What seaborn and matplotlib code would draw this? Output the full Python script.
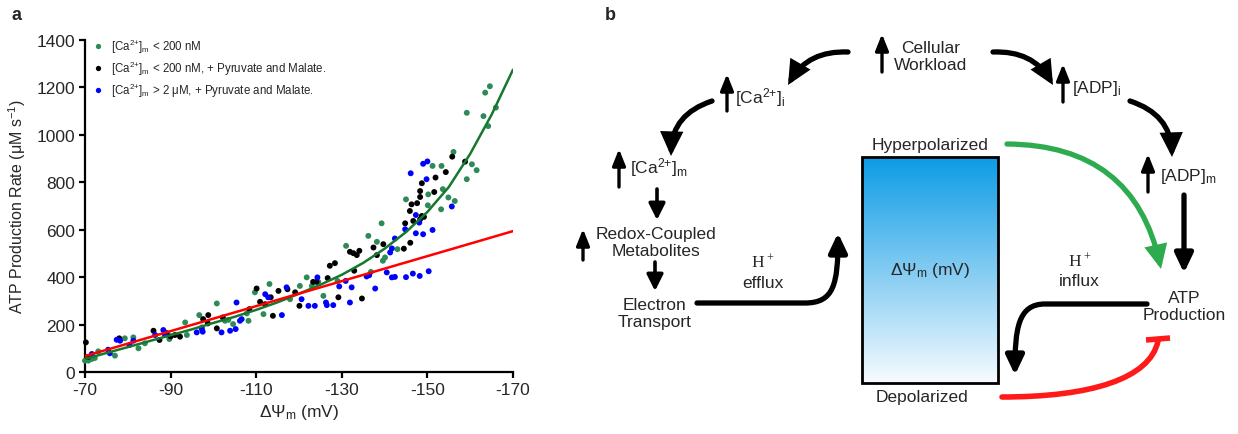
import numpy as np
import pandas as pd
import matplotlib
matplotlib.use("Agg")
import matplotlib.pyplot as plt
import seaborn as sns
from matplotlib.patches import FancyArrowPatch, Rectangle
from matplotlib.path import Path

# ---------------- data (panel a) ----------------
green_x = [-70.0, -70.8, -71.6, -72.3, -73.1, -77.0, -79.3, -81.3, -82.5, -84.0, -89.7, -93.4, -93.8,
           -96.7, -97.3, -100.8, -102.7, -103.5, -104.6, -107.8, -108.2, -109.7, -111.7, -113.1, -117.9,
           -120.2, -121.8, -123.0, -124.5, -125.7, -129.0, -131.0, -136.2, -138.2, -139.3, -136.8, -140.1,
           -139.6, -143.0, -159.2, -163.5, -164.6, -163.1, -164.2, -166.0, -156.1, -151.2, -153.3, -160.4,
           -161.5, -159.2, -153.6, -154.9, -156.4, -153.2, -150.2, -150.1, -145.0]
green_y = [48, 48, 55, 59, 87, 69, 142, 146, 100, 121, 139, 209, 156,
           240, 188, 289, 216, 220, 202, 247, 216, 336, 244, 371, 307,
           363, 399, 363, 380, 321, 384, 532, 574, 549, 627, 422, 483,
           469, 518, 1093, 1178, 1205, 1079, 1037, 1115, 928, 869, 869, 876,
           851, 813, 771, 736, 721, 686, 749, 703, 728]

black_x = [-70.2, -70.8, -78.0, -86.0, -87.4, -89.1, -90.0, -91.0, -92.2, -97.6, -98.8, -98.7, -100.8,
           -102.2, -108.4, -110.1, -110.9, -112.1, -113.4, -113.9, -115.2, -117.3, -119.1, -120.1, -123.3,
           -124.1, -126.7, -129.2, -134.7, -127.2, -128.4, -131.9, -132.7, -133.5, -134.1, -132.9, -137.4,
           -138.2, -139.7, -155.8, -158.8, -154.3, -151.9, -148.7, -148.3, -148.3, -147.6, -146.3, -145.9,
           -151.6, -144.8, -146.7, -148.7, -149.2, -148.3, -144.5, -146.0]
black_y = [125, 64, 142, 174, 135, 164, 150, 156, 149, 223, 240, 205, 184,
           230, 265, 352, 296, 286, 315, 237, 342, 349, 336, 279, 380,
           380, 396, 315, 310, 448, 459, 507, 501, 493, 511, 427, 525,
           493, 539, 908, 887, 843, 820, 796, 763, 738, 712, 707, 679,
           759, 627, 637, 658, 654, 644, 520, 545]

blue_x = [-71.6, -75.4, -75.8, -77.4, -78.2, -80.4, -81.3, -86.4, -88.3, -88.7, -96.1, -97.3, -97.5,
          -101.9, -103.9, -105.2, -105.4, -106.2, -106.6, -112.1, -112.8, -116.0, -117.1, -120.6, -122.2,
          -123.7, -124.3, -126.3, -126.5, -128.0, -129.4, -130.9, -132.3, -131.9, -137.8, -135.8, -136.4,
          -140.5, -141.7, -142.4, -141.3, -141.7, -142.4, -149.0, -150.0, -146.1, -149.8, -155.7, -147.3,
          -148.1, -144.8, -147.3, -149.0, -151.2, -145.0, -146.6, -148.2, -150.3]
blue_y = [76, 94, 79, 136, 132, 114, 132, 156, 177, 156, 167, 181, 170,
          167, 174, 181, 293, 216, 223, 328, 315, 240, 357, 307, 279,
          279, 399, 293, 282, 282, 361, 384, 357, 293, 352, 403, 408,
          420, 399, 401, 504, 521, 563, 878, 888, 838, 813, 698, 662,
          630, 602, 585, 581, 599, 400, 415, 405, 425]

fit_x = [-70, -75, -80, -85, -90, -95, -100, -105, -110, -115, -120, -125, -130, -135, -140,
         -145, -150, -155, -160, -165, -170]
green_fit = [55, 80, 105, 130, 155, 180, 207, 233, 262, 294, 330, 368, 410, 460, 520,
             590, 675, 780, 920, 1085, 1275]
red_x = [-70, -170]
red_fit = [67, 594]

labels = [r'[Ca$^{2{+}}$]$_\mathregular{m}$ < 200 nM',
          r'[Ca$^{2{+}}$]$_\mathregular{m}$ < 200 nM, + Pyruvate and Malate.',
          r'[Ca$^{2{+}}$]$_\mathregular{m}$ > 2 $\mathregular{\mu}$M, + Pyruvate and Malate.']
colors = ['#2e8b57', '#000000', '#0000ff']
yticks = [0, 200, 400, 600, 800, 1000, 1200, 1400]
xticks = [-70, -90, -110, -130, -150, -170]

df = pd.DataFrame({
    'mV': green_x + black_x + blue_x,
    'rate': green_y + black_y + blue_y,
    'cond': [labels[0]] * len(green_x) + [labels[1]] * len(black_x) + [labels[2]] * len(blue_x),
})
fit_g = pd.DataFrame({'mV': fit_x, 'rate': green_fit})
fit_r = pd.DataFrame({'mV': red_x, 'rate': red_fit})

# ---------------- style ----------------
sns.set_style('white')
plt.rcParams['font.family'] = ['Liberation Sans', 'DejaVu Sans']
plt.rcParams['mathtext.default'] = 'regular'

W, H = 1238, 435
fig = plt.figure(figsize=(W / 100, H / 100), dpi=100)

ax = fig.add_axes([85 / W, (H - 373) / H, 428 / W, 332 / H])
sns.scatterplot(data=df, x='mV', y='rate', hue='cond', hue_order=labels, palette=colors,
                s=18, linewidth=0, ax=ax, clip_on=False, zorder=3)
sns.lineplot(data=fit_g, x='mV', y='rate', color='#16782f', lw=1.8, ax=ax, zorder=4)
sns.lineplot(data=fit_r, x='mV', y='rate', color='#ff0000', lw=1.8, ax=ax, zorder=5)

ax.set_xlim(-70, -170)
ax.set_ylim(0, 1400)
ax.set_xticks(xticks)
ax.set_yticks(yticks)
ax.set_xticklabels([str(t) for t in xticks])
for s in ['top', 'right']:
    ax.spines[s].set_visible(False)
for s in ['left', 'bottom']:
    ax.spines[s].set_linewidth(1.6)
    ax.spines[s].set_color('black')
ax.tick_params(axis='both', direction='out', length=4, width=1.6, labelsize=12.5, color='black',
               bottom=True, left=True, pad=3)
ax.set_xlabel(r'$\mathregular{\Delta\Psi_m}$ (mV)', fontsize=12.5, labelpad=4)
ax.set_ylabel(r'ATP Production Rate ($\mathregular{\mu}$M s$^{-1}$)', fontsize=11.5, labelpad=6)

leg = ax.legend(loc='upper left', bbox_to_anchor=(-0.015, 1.035), frameon=False, fontsize=8.3,
                handletextpad=0.15, labelspacing=0.35, markerscale=0.9, borderaxespad=0.3)

fig.text(12 / W, 1 - 15 / H, 'a', fontsize=13, fontweight='bold', va='center')

# ---------------- panel b (diagram) ----------------
bx0 = 557
axb = fig.add_axes([bx0 / W, 0, (W - bx0) / W, 1])
axb.set_xlim(bx0, W)
axb.set_ylim(H, 0)
axb.axis('off')
axb.patch.set_alpha(0)

FS = 12.5
fig.text(605 / W, 1 - 15 / H, 'b', fontsize=13, fontweight='bold', va='center')

HEAD = '-|>,head_length=0.95,head_width=0.45'


def up_arrow(x, y0, y1, lw=2.4):
    a = FancyArrowPatch((x, y0), (x, y1), arrowstyle='-|>,head_length=0.7,head_width=0.28',
                        mutation_scale=14, lw=lw, color='black', shrinkA=0, shrinkB=0)
    axb.add_patch(a)


def curve_arrow(p0, p1, rad, color='black', lw=3.8):
    a = FancyArrowPatch(p0, p1, connectionstyle=f'arc3,rad={rad}',
                        arrowstyle=HEAD, mutation_scale=12, lw=lw, color=color,
                        shrinkA=0, shrinkB=0, joinstyle='miter')
    axb.add_patch(a)


# top row
axb.text(931, 57, 'Cellular\nWorkload', ha='center', va='center', fontsize=FS, linespacing=1.15)
up_arrow(882, 73, 35)
curve_arrow((848, 53), (788, 86), 0.3)
curve_arrow((993, 53), (1053, 86), -0.3)

up_arrow(727, 112, 75)
axb.text(735, 98, r'[Ca$^{2{+}}$]$_\mathregular{i}$', ha='left', va='center', fontsize=FS)
curve_arrow((712, 102), (671, 157), 0.35)

up_arrow(1063, 103, 65)
axb.text(1072, 88, r'[ADP]$_\mathregular{i}$', ha='left', va='center', fontsize=FS)
curve_arrow((1130, 102), (1172, 158), -0.35)

up_arrow(619, 188, 150)
axb.text(630, 168, r'[Ca$^{2{+}}$]$_\mathregular{m}$', ha='left', va='center', fontsize=FS)
up_arrow(1148, 193, 155)
axb.text(1160, 177, r'[ADP]$_\mathregular{m}$', ha='left', va='center', fontsize=FS)

# left column
axb.add_patch(FancyArrowPatch((657, 190), (657, 221), arrowstyle='-|>,head_length=0.7,head_width=0.35',
                              mutation_scale=14, lw=2.6, color='black', shrinkA=0, shrinkB=0))
up_arrow(583, 261, 230)
axb.text(656, 243, 'Redox-Coupled\nMetabolites', ha='center', va='center', fontsize=FS, linespacing=1.15)
axb.add_patch(FancyArrowPatch((655, 263), (655, 292), arrowstyle='-|>,head_length=0.7,head_width=0.35',
                              mutation_scale=14, lw=2.6, color='black', shrinkA=0, shrinkB=0))
axb.text(655, 314, 'Electron\nTransport', ha='center', va='center', fontsize=FS, linespacing=1.15)

# efflux arrow
p_eff = Path([(697, 304), (805, 304), (834, 304), (838, 285), (838, 234)],
             [Path.MOVETO, Path.LINETO, Path.CURVE4, Path.CURVE4, Path.CURVE4])
axb.add_patch(FancyArrowPatch(path=p_eff, arrowstyle=HEAD,
                              mutation_scale=12, lw=3.8, color='black', shrinkA=0, shrinkB=0))
axb.text(763, 262, r'H$^+$', ha='center', va='center', fontsize=FS, family=['Liberation Serif', 'DejaVu Serif'])
axb.text(763, 284, 'efflux', ha='center', va='center', fontsize=FS)

# central gradient box
grad = np.linspace(0, 1, 256).reshape(-1, 1)
top = np.array([0.05, 0.61, 0.90])
bot = np.array([0.97, 0.985, 1.0])
img = top[None, None, :] * (1 - grad[..., None]) + bot[None, None, :] * grad[..., None]
axb.imshow(img, extent=(862, 998, 384, 158), aspect='auto', zorder=1, interpolation='bilinear')
axb.add_patch(Rectangle((862, 158), 136, 226, fill=False, lw=2.0, edgecolor='black', zorder=2))
axb.set_xlim(bx0, W)
axb.set_ylim(H, 0)
axb.text(930, 146, 'Hyperpolarized', ha='center', va='center', fontsize=FS)
axb.text(922, 398, 'Depolarized', ha='center', va='center', fontsize=FS)
axb.text(930, 271, r'$\mathregular{\Delta\Psi_m}$ (mV)', ha='center', va='center', fontsize=FS, zorder=3)

# right column
axb.add_patch(FancyArrowPatch((1184, 196), (1184, 274), arrowstyle=HEAD,
                              mutation_scale=12, lw=3.8, color='black', shrinkA=0, shrinkB=0))
axb.text(1184, 307, 'ATP\nProduction', ha='center', va='center', fontsize=FS, linespacing=1.15)

# green hyperpolarized arrow
curve_arrow((1007, 145), (1161, 270), -0.4, color='#2fab4f', lw=3.8)

# influx arrow
p_inf = Path([(1147, 305), (1045, 305), (1018, 305), (1015, 330), (1015, 376)],
             [Path.MOVETO, Path.LINETO, Path.CURVE4, Path.CURVE4, Path.CURVE4])
axb.add_patch(FancyArrowPatch(path=p_inf, arrowstyle=HEAD,
                              mutation_scale=12, lw=3.8, color='black', shrinkA=0, shrinkB=0))
axb.text(1080, 261, r'H$^+$', ha='center', va='center', fontsize=FS, family=['Liberation Serif', 'DejaVu Serif'])
axb.text(1079, 282, 'influx', ha='center', va='center', fontsize=FS)

# red inhibition
p_red = Path([(1002, 398), (1090, 398), (1150, 380), (1158, 342)],
             [Path.MOVETO, Path.CURVE4, Path.CURVE4, Path.CURVE4])
axb.add_patch(FancyArrowPatch(path=p_red, arrowstyle='-', lw=4.0, color='#ff1a1a', shrinkA=0, shrinkB=0))
axb.plot([1146, 1170], [341, 339], color='#ff1a1a', lw=4.0, solid_capstyle='butt')

fig.savefig('out.png', dpi=100)
